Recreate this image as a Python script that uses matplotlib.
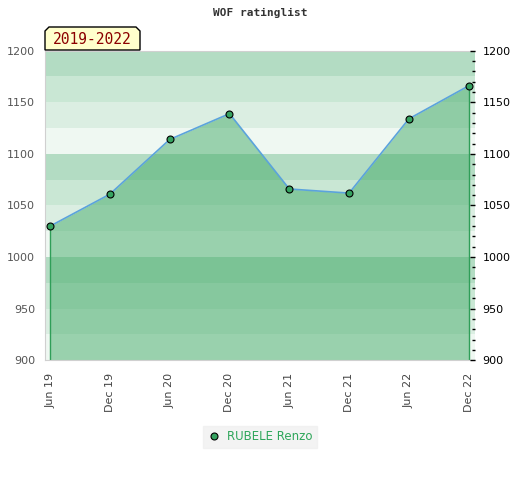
import numpy as np
import matplotlib
matplotlib.use('Agg')
import matplotlib.pyplot as plt
from matplotlib.patches import Polygon
from matplotlib.lines import Line2D

periods = ["Jun 19", "Dec 19", "Jun 20", "Dec 20", "Jun 21", "Dec 21", "Jun 22", "Dec 22"]
ratings = [1030, 1061, 1114, 1139, 1066, 1062, 1134, 1166]
player = "RUBELE Renzo"
title = "WOF ratinglist"
span_label = "2019-2022"

band_edges = np.arange(900, 1200, 25)
band_colors = ["#eff8f2", "#dbeee2", "#c9e7d4", "#b3dcc3"]

W, H = 520, 480
fig = plt.figure(figsize=(W / 100, H / 100), dpi=100)
ax = fig.add_axes([45 / W, 1 - 360.3 / H, 430 / W, 309.6 / H])

x = np.arange(len(ratings))

# background bands, 4-colour cycle every 25 points
for i, lo in enumerate(band_edges):
    ax.axhspan(lo, lo + 25, color=band_colors[i % 4], linewidth=0, zorder=0)

ax.fill_between(x, ratings, 900, color="#44ab69", alpha=0.5, linewidth=0, zorder=1)
ax.vlines([x[0], x[-1]], 900, [ratings[0], ratings[-1]], color="#2f9e58", linewidth=1, zorder=2)
ax.plot(x, ratings, "-", color="#5ba3dc", linewidth=1.2, zorder=3)
ax.plot(x, ratings, "o", color="#35a260", markeredgecolor="black",
        markeredgewidth=0.8, markersize=5, zorder=4)

ax.set_xlim(-0.085, 7.105)
ax.set_ylim(900, 1200)

ax.set_xticks(x)
ax.set_xticklabels(periods, rotation=90, fontsize=8, color="#444444")
ax.tick_params(axis="x", length=0, pad=9)
ax.set_yticks(np.arange(900, 1201, 50))
ax.tick_params(axis="y", length=0, pad=7, labelsize=8, labelcolor="#555555")

for s in ["left", "bottom", "top"]:
    ax.spines[s].set_color("#d0d0d0")
ax.spines["right"].set_visible(False)

ax2 = ax.twinx()
ax2.set_ylim(900, 1200)
ax2.set_yticks(np.arange(900, 1201, 50))
ax2.set_yticks(np.arange(900, 1201, 10), minor=True)
ax2.tick_params(axis="y", which="major", direction="in", length=3.5, width=1,
                labelsize=8, labelcolor="black", pad=5.5)
ax2.tick_params(axis="y", which="minor", direction="in", length=2.5, width=1)
for s in ax2.spines.values():
    s.set_visible(False)

fig.text(260 / W, 1 - 13 / H, title, ha="center", va="center",
         fontsize=8, fontweight="bold", family="DejaVu Sans Mono", color="#333333")

# label box with chamfered top corners
bx = [45, 45, 49, 136, 140, 140]
by = [50, 31, 27, 27, 31, 50]
box = Polygon([(a / W, 1 - b / H) for a, b in zip(bx, by)], closed=True,
              transform=fig.transFigure, facecolor="#ffffcc", edgecolor="black",
              linewidth=1, zorder=5)
fig.patches.append(box)
fig.text(92 / W, 1 - 40 / H, span_label, ha="center", va="center",
         fontsize=10.5, family="DejaVu Sans Mono", color="#8b0000", zorder=6)

handle = Line2D([], [], linestyle="none", marker="o", color="#35a260",
                markeredgecolor="black", markeredgewidth=0.8, markersize=5)
leg = fig.legend([handle], [player], loc="center", bbox_to_anchor=(260 / W, 1 - 437 / H),
                 frameon=True, fancybox=False, fontsize=8.5, handlelength=1,
                 handletextpad=0.6, borderpad=0.4)
leg.get_frame().set_facecolor("#f0f0f0")
leg.get_frame().set_edgecolor("#f0f0f0")
for t in leg.get_texts():
    t.set_color("#2ea65a")

fig.savefig("out.png", dpi=100)
